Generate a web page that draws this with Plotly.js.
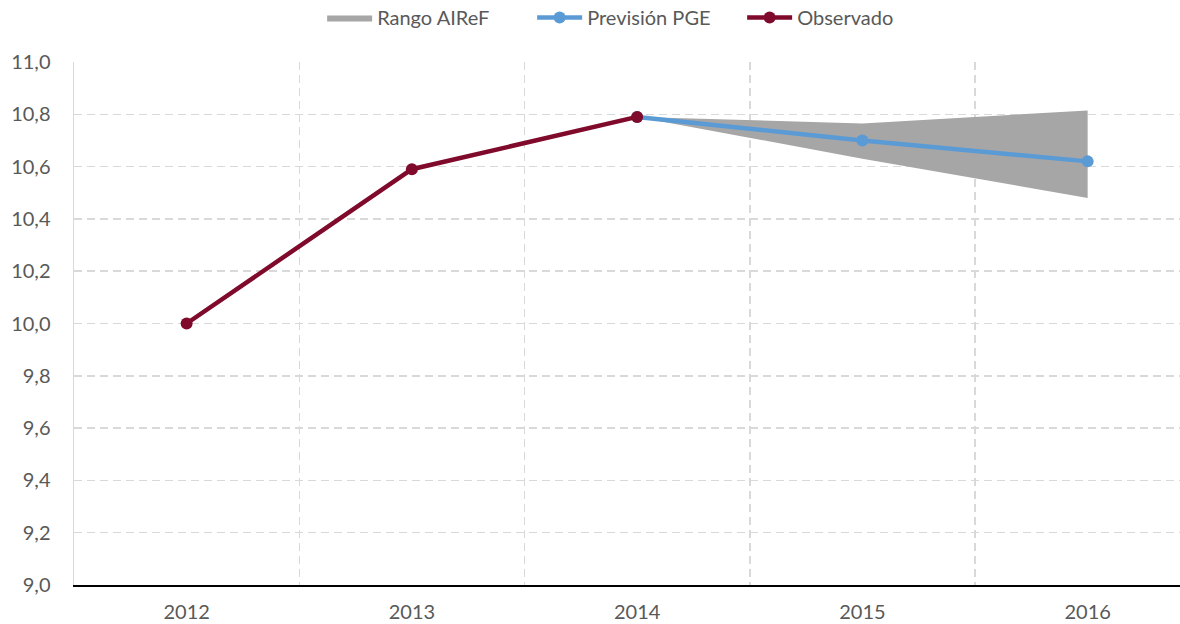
<!DOCTYPE html>
<html><head><meta charset="utf-8">
<script src="https://cdn.plot.ly/plotly-3.0.1.min.js"></script>
<style>html,body{margin:0;padding:0;background:#fff}#chart{width:1180px;height:624px}</style>
</head><body><div id="chart"></div>
<script>
const years = ['2012','2013','2014','2015','2016'];
const observadoYears = ['2012','2013','2014'];
const observado = [10.0, 10.59, 10.79];
const previsionYears = ['2014','2015','2016'];
const prevision = [10.79, 10.70, 10.62];
const rangoYears = ['2014','2015','2016'];
const rangoUpper = [10.79, 10.765, 10.815];
const rangoLower = [10.79, 10.63, 10.48];

const fontFam = 'Lato, "Open Sans", sans-serif';
const txtColor = '#595959';

const traces = [
  {
    x: rangoYears.concat(rangoYears.slice().reverse()),
    y: rangoUpper.concat(rangoLower.slice().reverse()),
    type: 'scatter', mode: 'lines', fill: 'toself',
    fillcolor: '#A6A6A6', line: {width: 0, color: '#A6A6A6'},
    name: 'Rango AIReF', hoverinfo: 'skip'
  },
  {
    x: previsionYears, y: prevision, type: 'scatter', mode: 'lines+markers',
    line: {color: '#5B9BD5', width: 4.5}, marker: {color: '#5B9BD5', size: 12},
    name: 'Previsión PGE'
  },
  {
    x: observadoYears, y: observado, type: 'scatter', mode: 'lines+markers',
    line: {color: '#7F0A2B', width: 4.5}, marker: {color: '#7F0A2B', size: 12},
    name: 'Observado'
  }
];

const layout = {
  width: 1180, height: 624,
  margin: {l: 74, r: 0, t: 62, b: 39},
  paper_bgcolor: '#fff', plot_bgcolor: '#fff',
  separators: ',.',
  font: {family: fontFam, color: txtColor, size: 20},
  showlegend: true,
  legend: {
    orientation: 'h', xref: 'container', yref: 'container',
    x: 0.273, xanchor: 'left', y: 0.972, yanchor: 'middle',
    font: {family: fontFam, color: txtColor, size: 20},
    itemwidth: 45, entrywidth: 150, traceorder: 'normal'
  },
  xaxis: {
    type: 'category', categoryorder: 'array', categoryarray: years,
    range: [-0.5, 4.41],
    tickson: 'boundaries',
    showgrid: true, gridcolor: '#D9D9D9', griddash: '8px,5px', gridwidth: 1.5,
    showline: true, linecolor: '#000', linewidth: 2,
    ticks: '', ticklabelstandoff: 8,
    tickfont: {family: fontFam, color: txtColor, size: 20},
    zeroline: false, fixedrange: true
  },
  yaxis: {
    range: [9, 11], dtick: 0.2, tick0: 9, tickformat: '.1f',
    showgrid: true, gridcolor: '#D9D9D9', griddash: '8px,5px', gridwidth: 1.5,
    showline: true, linecolor: '#D9D9D9', linewidth: 1.5,
    ticks: 'outside', ticklen: 18, tickcolor: 'rgba(0,0,0,0)',
    tickfont: {family: fontFam, color: txtColor, size: 20},
    zeroline: false, fixedrange: true
  }
};

Plotly.newPlot('chart', traces, layout, {displayModeBar: false, staticPlot: true});
</script></body></html>
